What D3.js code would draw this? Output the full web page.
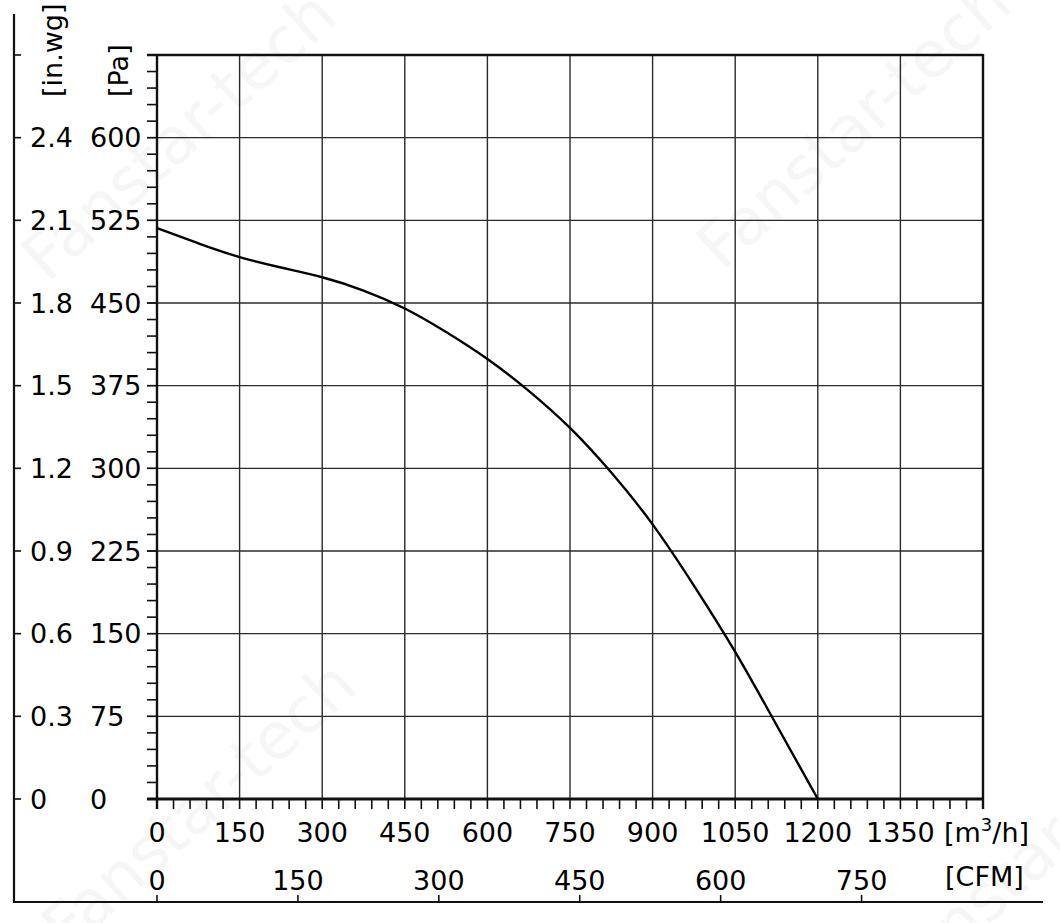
<!DOCTYPE html>
<html>
<head>
<meta charset="utf-8">
<script src="https://cdn.jsdelivr.net/npm/d3@7/dist/d3.min.js"></script>
<style>
  body { margin: 0; background: #fff; }
  text { font-family: "DejaVu Sans", Verdana, sans-serif; fill: #000; }
</style>
</head>
<body>
<div id="chart"></div>
<script>
// fan curve: flow in m3/h, static pressure in Pa
const flow = [0, 75, 150, 225, 300, 375, 450, 525, 600, 675, 750, 825, 900, 975, 1050, 1125, 1200];
const pressure = [518, 504, 491, 482, 474, 462, 446, 424, 400, 371, 338, 297, 251, 194, 135, 67, 0];

const flowTicks = [0, 150, 300, 450, 600, 750, 900, 1050, 1200, 1350];
const paTicks = [0, 75, 150, 225, 300, 375, 450, 525, 600];
const inwgTicks = ["0", "0.3", "0.6", "0.9", "1.2", "1.5", "1.8", "2.1", "2.4"];
const cfmTicks = [0, 150, 300, 450, 600, 750];
const cfmFactor = 1.706; // m3/h per CFM

const width = 1060;
const height = 923;
const fontSize = 27;

const svg = d3.select("#chart").append("svg")
  .attr("width", width)
  .attr("height", height);

const x = d3.scaleLinear().domain([0, 1500]).range([157, 983]);
const y = d3.scaleLinear().domain([0, 675]).range([799, 55]);
const yIn = d3.scaleLinear().domain([0, 2.7]).range([799, 55]);
const xCfm = d3.scaleLinear().domain([0, 1500 / cfmFactor]).range([157, 983]);

// faint watermark
const marks = [
  { x: 360, y: 690, anchor: "end" },
  { x: 340, y: 20, anchor: "end" },
  { x: 722, y: 272, anchor: "start" },
  { x: 905, y: 1000, anchor: "start" }
];
svg.append("g").selectAll("text").data(marks).enter().append("text")
  .attr("transform", (d) => `translate(${d.x},${d.y}) rotate(-42)`)
  .attr("text-anchor", (d) => d.anchor)
  .style("font-size", "64px")
  .style("fill", "#f6f6f6")
  .text("Fanstar-tech");

/*----- grid -----*/
const grid = svg.append("g");

grid.selectAll(".vx").data(flowTicks.slice(1)).enter().append("line")
  .attr("x1", (d) => x(d))
  .attr("x2", (d) => x(d))
  .attr("y1", y(675))
  .attr("y2", y(0))
  .style("stroke", "#2a2a2a")
  .style("stroke-width", 1.4);

grid.selectAll(".hy").data(paTicks.slice(1)).enter().append("line")
  .attr("x1", 147)
  .attr("x2", x(1500))
  .attr("y1", (d) => y(d))
  .attr("y2", (d) => y(d))
  .style("stroke", "#2a2a2a")
  .style("stroke-width", 1.4);

// minor ticks
const minorPa = d3.range(0, 676, 15);
grid.selectAll(".my").data(minorPa).enter().append("line")
  .attr("x1", 147)
  .attr("x2", 157)
  .attr("y1", (d) => y(d))
  .attr("y2", (d) => y(d))
  .style("stroke", "#111")
  .style("stroke-width", 1.6);

const minorFlow = d3.range(0, 1501, 30);
grid.selectAll(".mx").data(minorFlow).enter().append("line")
  .attr("x1", (d) => x(d))
  .attr("x2", (d) => x(d))
  .attr("y1", 799)
  .attr("y2", 809)
  .style("stroke", "#111")
  .style("stroke-width", 1.6);

// frame
grid.append("line").attr("x1", 147).attr("x2", x(1500)).attr("y1", y(675)).attr("y2", y(675))
  .style("stroke", "#111").style("stroke-width", 2.4);
grid.append("line").attr("x1", 147).attr("x2", x(1500) + 1).attr("y1", y(0)).attr("y2", y(0))
  .style("stroke", "#111").style("stroke-width", 2.8);
grid.append("line").attr("x1", x(0)).attr("x2", x(0)).attr("y1", y(675)).attr("y2", 809)
  .style("stroke", "#111").style("stroke-width", 2.4);
grid.append("line").attr("x1", x(1500)).attr("x2", x(1500)).attr("y1", y(675) - 1).attr("y2", 809)
  .style("stroke", "#111").style("stroke-width", 2.4);

/*----- outer in.wg and CFM axes -----*/
svg.append("line").attr("x1", 14).attr("x2", 14).attr("y1", 14).attr("y2", 903)
  .style("stroke", "#111").style("stroke-width", 2.2);
svg.append("line").attr("x1", 13).attr("x2", 1043).attr("y1", 902).attr("y2", 902)
  .style("stroke", "#111").style("stroke-width", 2.2);

svg.append("g").selectAll("line").data(d3.range(0, 2.71, 0.3)).enter().append("line")
  .attr("x1", 14)
  .attr("x2", 21)
  .attr("y1", (d) => yIn(d))
  .attr("y2", (d) => yIn(d))
  .style("stroke", "#111")
  .style("stroke-width", 1.6);

svg.append("g").selectAll("line").data(cfmTicks).enter().append("line")
  .attr("x1", (d) => xCfm(d))
  .attr("x2", (d) => xCfm(d))
  .attr("y1", 895)
  .attr("y2", 902)
  .style("stroke", "#111")
  .style("stroke-width", 1.6);

/*----- labels -----*/
svg.append("g").selectAll("text").data(inwgTicks).enter().append("text")
  .attr("x", 30)
  .attr("y", (d) => yIn(+d))
  .attr("dy", "0.36em")
  .style("font-size", fontSize + "px")
  .text((d) => d);

svg.append("g").selectAll("text").data(paTicks).enter().append("text")
  .attr("x", 90)
  .attr("y", (d) => y(d))
  .attr("dy", "0.36em")
  .style("font-size", fontSize + "px")
  .text((d) => d);

svg.append("text")
  .attr("transform", "translate(62,97) rotate(-90)")
  .style("font-size", fontSize + "px")
  .text("[in.wg]");

svg.append("text")
  .attr("transform", "translate(128,97) rotate(-90)")
  .style("font-size", fontSize + "px")
  .text("[Pa]");

svg.append("g").selectAll("text").data(flowTicks).enter().append("text")
  .attr("x", (d) => x(d))
  .attr("y", 842)
  .attr("text-anchor", "middle")
  .style("font-size", fontSize + "px")
  .text((d) => d);

const unit = svg.append("text")
  .attr("x", 944)
  .attr("y", 842)
  .style("font-size", fontSize + "px");
unit.append("tspan").text("[m");
unit.append("tspan").attr("dy", -11).style("font-size", "18px").text("3");
unit.append("tspan").attr("dy", 11).text("/h]");

svg.append("g").selectAll("text").data(cfmTicks).enter().append("text")
  .attr("x", (d) => xCfm(d))
  .attr("y", 890)
  .attr("text-anchor", "middle")
  .style("font-size", fontSize + "px")
  .text((d) => d);

svg.append("text")
  .attr("x", 945)
  .attr("y", 886)
  .style("font-size", fontSize + "px")
  .text("[CFM]");

/*----- curve -----*/
const line = d3.line()
  .x((d, i) => x(flow[i]))
  .y((d) => y(d))
  .curve(d3.curveBasis);

svg.append("path")
  .datum(pressure)
  .attr("d", line)
  .style("fill", "none")
  .style("stroke", "#000")
  .style("stroke-width", 2.4);
</script>
</body>
</html>
